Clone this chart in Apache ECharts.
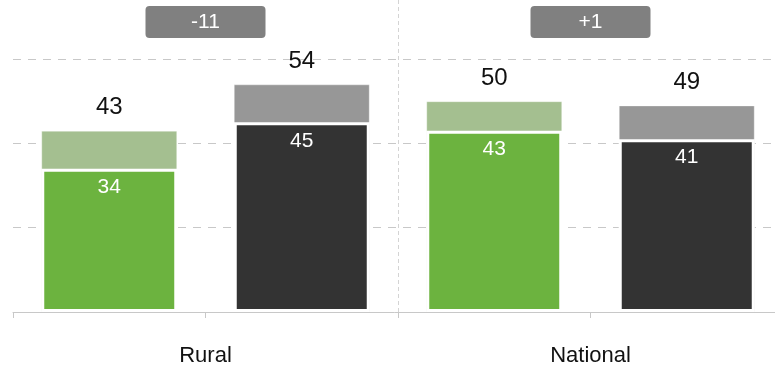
<!DOCTYPE html>
<html>
<head>
<meta charset="utf-8">
<script src="https://cdn.jsdelivr.net/npm/echarts@6/dist/echarts.min.js"></script>
<style>
  html, body { margin: 0; padding: 0; background: #fff; }
  #chart { width: 775px; height: 366px; }
</style>
</head>
<body>
<div id="chart"></div>
<script>
// Bars: two per group (green, dark)
const barKeys = ['Rural A', 'Rural B', 'National A', 'National B'];
const groupLabels = ['Rural', 'National'];
const changeLabels = ['-11', '+1'];

// Lower (solid) segment values and full bar totals
const baseValues = [34, 45, 43, 41];
const totalValues = [43, 54, 50, 49];

const baseColors = ['#6cb33f', '#333333', '#6cb33f', '#333333'];
const topColors = ['#a4bf90', '#979797', '#a4bf90', '#979797'];

const FONT = '"Liberation Sans", Arial, sans-serif';

const chart = echarts.init(document.getElementById('chart'));

chart.setOption({
  animation: false,
  grid: { left: 13, width: 770, top: 0, height: 312, outerBoundsMode: 'none', containLabel: false },
  xAxis: [
    {
      type: 'category',
      data: barKeys,
      position: 'bottom',
      axisLine: { show: true, lineStyle: { color: '#c8c8c8', width: 1 } },
      axisTick: { show: true, length: 6, lineStyle: { color: '#c8c8c8' } },
      axisLabel: { show: false },
      splitLine: { show: false }
    },
    {
      type: 'category',
      data: groupLabels,
      position: 'bottom',
      axisLine: { show: false },
      axisTick: { show: false },
      axisLabel: { show: true, margin: 33, fontSize: 22, color: '#111', fontFamily: FONT },
      splitLine: { show: false }
    },
    {
      type: 'category',
      data: changeLabels,
      position: 'top',
      axisLine: { show: false },
      axisTick: { show: false },
      splitLine: { show: false },
      axisLabel: {
        show: true,
        inside: true,
        margin: 6,
        color: '#fff',
        fontSize: 21,
        fontFamily: FONT,
        backgroundColor: '#808080',
        borderRadius: 4,
        width: 120,
        height: 32,
        lineHeight: 32,
        align: 'center'
      }
    },
    {
      // group divider: one dashed line between the two groups
      type: 'value',
      min: 0,
      max: 2,
      interval: 1,
      position: 'bottom',
      axisLine: { show: false },
      axisTick: { show: false },
      axisLabel: { show: false },
      splitLine: {
        show: true,
        showMinLine: false,
        showMaxLine: false,
        lineStyle: { color: '#d4d4d4', type: [4, 3], width: 1 }
      }
    }
  ],
  yAxis: {
    type: 'value',
    min: 0,
    max: 74,
    interval: 20,
    axisLine: { show: false },
    axisTick: { show: false },
    axisLabel: { show: false },
    splitLine: {
      show: true,
      showMinLine: false,
      showMaxLine: false,
      lineStyle: { color: '#c8c8c8', type: [8, 7], width: 1 }
    }
  },
  series: [
    {
      name: 'Total',
      type: 'bar',
      xAxisIndex: 0,
      barWidth: 136,
      barGap: '-100%',
      data: totalValues.map((v, i) => ({ value: v, itemStyle: { color: topColors[i] } })),
      itemStyle: { borderColor: 'rgba(255,255,255,0.35)', borderWidth: 1 },
      label: {
        show: true,
        position: 'top',
        distance: 11,
        fontSize: 24,
        color: '#111',
        fontFamily: FONT
      }
    },
    {
      name: 'Base',
      type: 'bar',
      xAxisIndex: 0,
      barWidth: 136,
      barGap: '-100%',
      data: baseValues.map((v, i) => ({ value: v, itemStyle: { color: baseColors[i] } })),
      itemStyle: { borderColor: '#ffffff', borderWidth: 3 },
      label: {
        show: true,
        position: 'insideTop',
        distance: 8,
        fontSize: 21,
        color: '#ffffff',
        fontFamily: FONT
      }
    }
  ]
});
</script>
</body>
</html>
